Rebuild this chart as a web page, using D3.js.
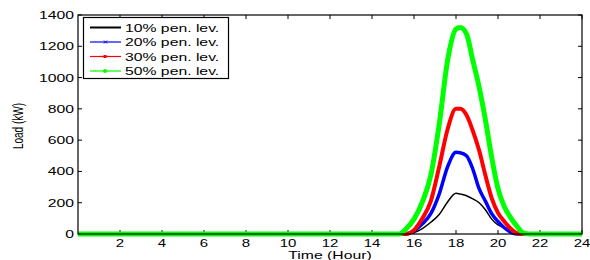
<!DOCTYPE html>
<html>
<head>
<meta charset="utf-8">
<script src="https://cdn.jsdelivr.net/npm/d3@7"></script>
<style>
  body { margin: 0; background: #fff; }
  text { font-family: "Liberation Sans", Arial, sans-serif; fill: #000; }
</style>
</head>
<body>
<svg id="chart"></svg>
<script>
(function() {
  'use strict';

  const hours   = [0, 15, 15.3, 15.6, 16, 16.4, 16.8, 17.2, 17.6, 18.0, 18.2, 18.5, 18.8, 19.1, 19.4, 19.7, 20.0, 20.3, 20.6, 20.9, 21.2, 21.5, 24];
  const load10  = [0, 0, 0, 0, 10, 35, 75, 125, 205, 260, 255, 245, 225, 200, 155, 95, 58, 40, 25, 10, 0, 0, 0];
  const load20  = [0, 0, 0, 0, 20, 65, 130, 255, 430, 522, 520, 500, 415, 290, 210, 130, 80, 40, 12, 0, 0, 0, 0];
  const load30  = [0, 0, 0, 0, 25, 100, 210, 430, 670, 800, 800, 760, 660, 535, 375, 230, 135, 80, 35, 5, 0, 0, 0];
  const load50  = [0, 0, 0, 30, 95, 205, 375, 700, 1110, 1310, 1320, 1280, 1110, 940, 730, 490, 290, 175, 105, 50, 8, 0, 0];

  const seriesNames = ['10% pen. lev.', '20% pen. lev.', '30% pen. lev.', '50% pen. lev.'];
  const seriesColors = ['#000000', '#0000ff', '#ff0000', '#00ff00'];
  const seriesWidths = [1.5, 3.5, 4, 5];
  const seriesLoads = [load10, load20, load30, load50];

  const xTicks = [2, 4, 6, 8, 10, 12, 14, 16, 18, 20, 22, 24];
  const yTicks = [0, 200, 400, 600, 800, 1000, 1200, 1400];

  const margin = {left: 78, right: 8, top: 15, bottom: 26};
  const W = 590, H = 260;
  const stretch = 1.5;

  const svg = d3.select('#chart')
    .attr('width', W)
    .attr('height', H);

  svg.append('rect').attr('width', W).attr('height', H).attr('fill', '#fff');

  const x = d3.scaleLinear().domain([0, 24]).range([margin.left, W - margin.right]);
  const y = d3.scaleLinear().domain([0, 1400]).range([H - margin.bottom, margin.top]);

  const label = (px, py, str, anchor, size) =>
    svg.append('g')
      .attr('transform', `translate(${px},${py}) scale(${stretch},1)`)
      .append('text')
      .attr('text-anchor', anchor)
      .attr('font-size', size)
      .text(str);

  // ticks, inward on all four sides
  const tk = 4;
  svg.selectAll('.xt')
    .data(xTicks)
    .enter()
    .append('path')
      .attr('stroke', '#000')
      .attr('d', d => `M${x(d)},${y(0)}v${-tk}M${x(d)},${y(1400)}v${tk}`);

  svg.selectAll('.yt')
    .data(yTicks)
    .enter()
    .append('path')
      .attr('stroke', '#000')
      .attr('d', d => `M${x(0)},${y(d)}h${tk}M${x(24)},${y(d)}h${-tk}`);

  xTicks.forEach(d => label(x(d), y(0) + 13, d, 'middle', 10));
  yTicks.forEach(d => label(x(0) - 4, y(d) + 4, d, 'end', 10.5));

  // curves
  seriesLoads.forEach((vals, i) => {
    const line = d3.line()
      .x((d, j) => x(hours[j]))
      .y(d => y(d))
      .curve(d3.curveMonotoneX);
    svg.append('path')
      .datum(vals)
      .attr('fill', 'none')
      .attr('stroke', seriesColors[i])
      .attr('stroke-width', seriesWidths[i])
      .attr('stroke-linejoin', 'round')
      .attr('d', line);
  });

  // frame
  svg.append('rect')
    .attr('x', x(0)).attr('y', y(1400))
    .attr('width', x(24) - x(0)).attr('height', y(0) - y(1400))
    .attr('fill', 'none')
    .attr('stroke', '#000')
    .attr('stroke-width', 1.2);

  // axis titles
  label(330, 259, 'Time (Hour)', 'middle', 10.5);
  svg.append('g')
    .attr('transform', `translate(23,126) scale(${stretch},1) rotate(-90)`)
    .append('text')
      .attr('text-anchor', 'middle')
      .attr('font-size', 10)
      .text('Load (kW)');

  // legend
  const legend = svg.append('g');
  legend.append('rect')
    .attr('x', 83.5).attr('y', 17.5)
    .attr('width', 145).attr('height', 61)
    .attr('fill', '#fff')
    .attr('stroke', '#000')
    .attr('stroke-width', 1.2);

  const rowY = [27.5, 42, 56.5, 71];
  seriesNames.forEach((name, i) => {
    const yy = rowY[i];
    legend.append('line')
      .attr('x1', 90).attr('x2', 121)
      .attr('y1', yy).attr('y2', yy)
      .attr('stroke', seriesColors[i])
      .attr('stroke-width', i === 0 ? 2 : 1.2);
    if (i === 1) {
      legend.append('path')
        .attr('d', `M${104},${yy - 1.5}l3,3M${104},${yy + 1.5}l3,-3`)
        .attr('stroke', seriesColors[i]).attr('stroke-width', 1);
    } else if (i === 2) {
      legend.append('rect')
        .attr('x', 103.5).attr('y', yy - 1.5).attr('width', 3).attr('height', 3)
        .attr('fill', seriesColors[i]);
    } else if (i === 3) {
      legend.append('circle')
        .attr('cx', 105).attr('cy', yy).attr('r', 2)
        .attr('fill', seriesColors[i]);
    }
    label(125, yy + 4, name, 'start', 10.5);
  });
})();
</script>
</body>
</html>
